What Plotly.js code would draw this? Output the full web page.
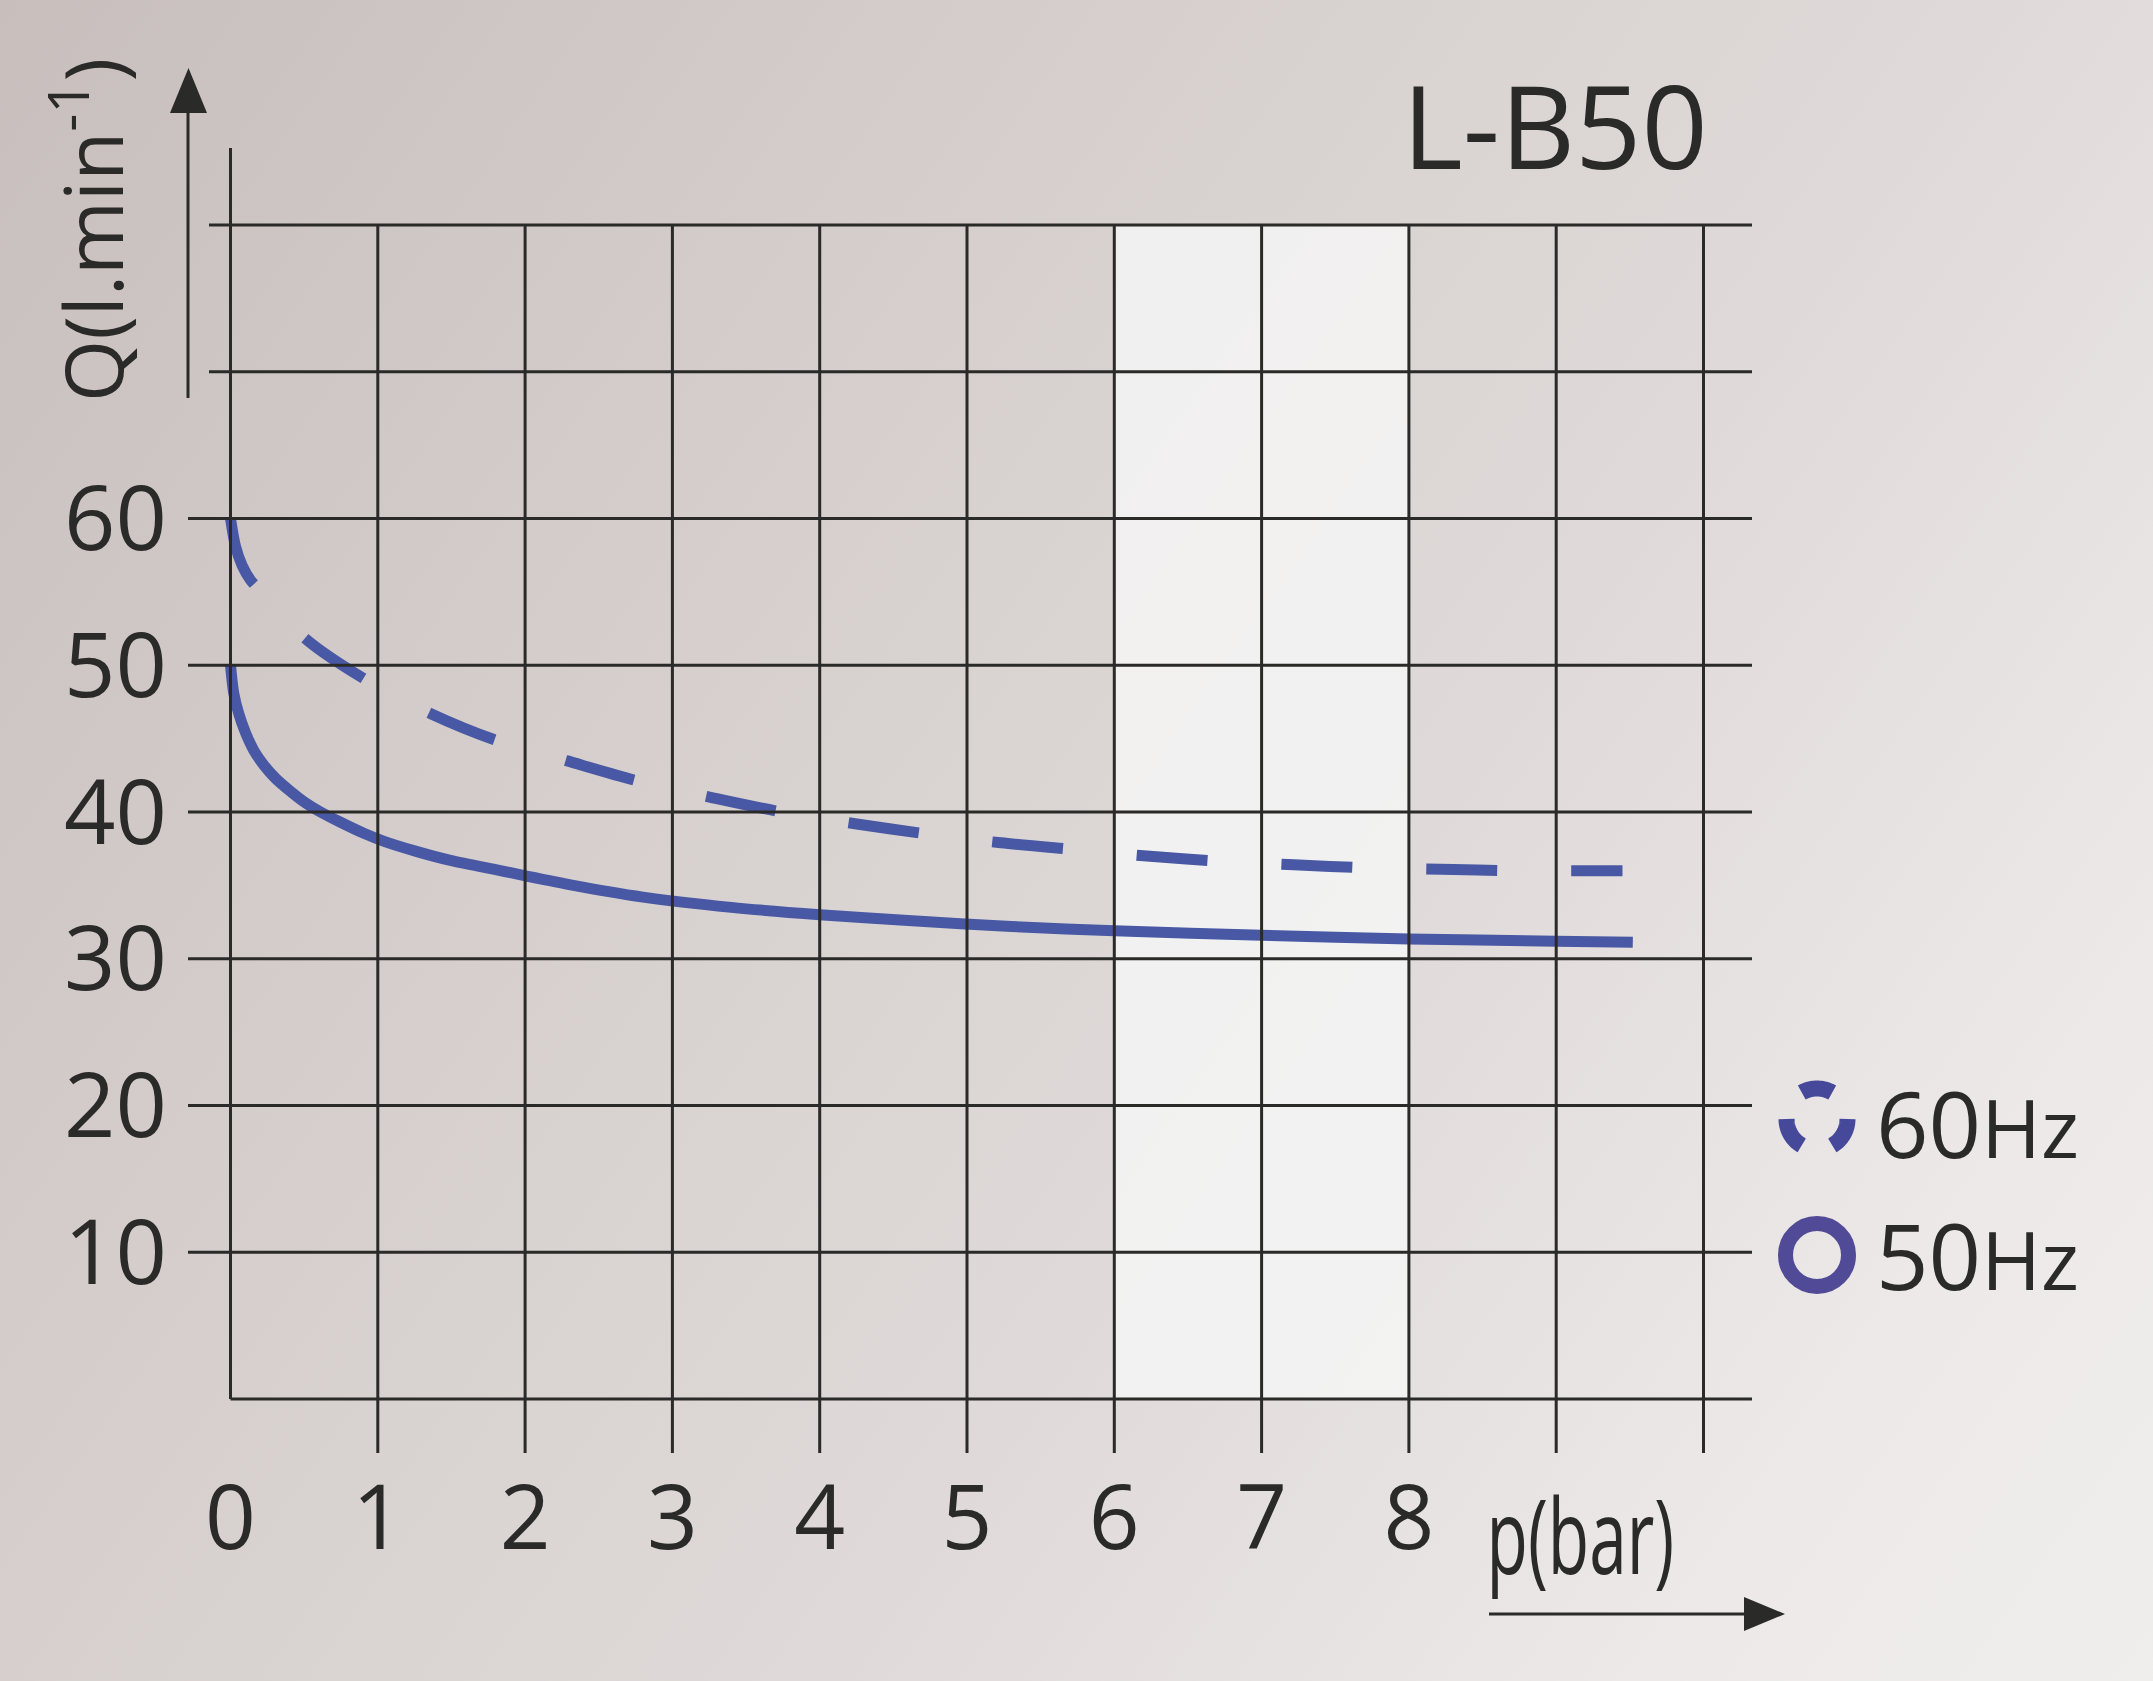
<!DOCTYPE html>
<html><head><meta charset="utf-8">
<script src="https://cdn.plot.ly/plotly-3.0.1.min.js"></script>
<style>
html,body{margin:0;padding:0;width:2153px;height:1681px;overflow:hidden;
background:linear-gradient(125deg,#c8bfbd 0%,#d4cdcb 30%,#dfdad9 60%,#ece9e8 85%,#f0eded 100%);}
#chart{width:2153px;height:1681px;}
</style></head><body><div id="chart"></div>
<script>
// ---- data ----
const pressure50 = [0, 0.022, 0.056, 0.102, 0.158, 0.226, 0.305, 0.396, 0.498, 0.611, 0.747, 0.905, 1.043, 1.267, 1.493, 1.833, 2.3, 2.8, 3.4, 4, 4.6, 5.3, 6, 7, 8, 9, 9.52];
const flow50     = [50, 48.1, 46.7, 45.4, 44.2, 43.2, 42.3, 41.5, 40.7, 40.0, 39.3, 38.55, 38.0, 37.3, 36.7, 36.0, 35.05, 34.2, 33.5, 33.0, 32.6, 32.2, 31.9, 31.6, 31.35, 31.2, 31.12];
const pressure60 = [0, 0.034, 0.079, 0.136, 0.18, 0.51, 0.92, 1.36, 1.8, 2.28, 2.77, 3.26, 3.74, 4.24, 4.73, 5.23, 5.72, 6.22, 6.71, 7.22, 7.71, 8.22, 8.71, 9.21, 9.45];
const flow60     = [60, 58.1, 56.8, 55.8, 55.3, 51.8, 49.0, 46.7, 44.9, 43.5, 42.1, 41.0, 40.0, 39.2, 38.5, 37.9, 37.45, 37.0, 36.65, 36.4, 36.2, 36.1, 36.0, 36.0, 36.0];
const xTickVals  = [0, 1, 2, 3, 4, 5, 6, 7, 8];
const xTickText  = ['0', '1', '2', '3', '4', '5', '6', '7', '8'];
const yTickVals  = [10, 20, 30, 40, 50, 60];
const yTickText  = ['10', '20', '30', '40', '50', '60'];
const gridX      = [1, 2, 3, 4, 5, 6, 7, 8, 9, 10];
const gridY      = [0, 10, 20, 30, 40, 50, 60, 70, 80];
const bandX      = [6, 8];
const seriesNames = ['60Hz', '50Hz'];
const chartTitle = 'L-B50';
const xTitle = 'p(bar)';
const yTitle = 'Q(l.min<sup>-1</sup>)';

// ---- layout geometry (pixels) ----
const W = 2153, H = 1681;
const L = 188, R = 1752, T = 148, B = 1453;
const x0px = 230.5, xUnit = 147.3, y0px = 1399, yUnit = 14.675;
const xRange = [(L - x0px) / xUnit, (R - x0px) / xUnit];
const yRange = [(y0px - B) / yUnit, (y0px - T) / yUnit];
const px2x = p => (p - L) / (R - L);
const py2y = p => (B - p) / (B - T);

const INK = '#2a2a28';
const BLUE = '#4858a4';
const gridW = 3;

const shapes = [];
// highlighted band
shapes.push({type: 'rect', xref: 'x', yref: 'y', x0: bandX[0], x1: bandX[1], y0: 0, y1: gridY[gridY.length - 1],
  fillcolor: 'rgba(247,246,246,0.82)', line: {width: 0}, layer: 'below'});
// vertical grid lines (extend below axis)
gridX.forEach(v => shapes.push({type: 'line', xref: 'x', yref: 'y', x0: v, x1: v, y0: yRange[0], y1: gridY[gridY.length - 1],
  line: {color: INK, width: gridW}}));
// horizontal grid lines
gridY.forEach(v => {
  let xs = v === 0 ? 0 : (v >= 70 ? (209 - x0px) / xUnit : xRange[0]);
  shapes.push({type: 'line', xref: 'x', yref: 'y', x0: xs, x1: xRange[1], y0: v, y1: v, line: {color: INK, width: gridW}});
});
// y axis line
shapes.push({type: 'line', xref: 'x', yref: 'y', x0: 0, x1: 0, y0: 0, y1: yRange[1], line: {color: INK, width: gridW}});

// up arrow (Q)
shapes.push({type: 'line', xref: 'paper', yref: 'paper', x0: px2x(188), x1: px2x(188), y0: py2y(398), y1: py2y(110),
  line: {color: INK, width: 3}});
shapes.push({type: 'path', xref: 'paper', yref: 'paper',
  path: `M ${px2x(170)} ${py2y(113)} L ${px2x(207)} ${py2y(113)} L ${px2x(188.5)} ${py2y(68)} Z`,
  fillcolor: INK, line: {width: 0}});
// right arrow (p)
shapes.push({type: 'line', xref: 'paper', yref: 'paper', x0: px2x(1489), x1: px2x(1748), y0: py2y(1614), y1: py2y(1614),
  line: {color: INK, width: 3}});
shapes.push({type: 'path', xref: 'paper', yref: 'paper',
  path: `M ${px2x(1744)} ${py2y(1597)} L ${px2x(1744)} ${py2y(1631)} L ${px2x(1785)} ${py2y(1614)} Z`,
  fillcolor: INK, line: {width: 0}});

// legend icons
function arcPath(cx, cy, r, a0, a1) {
  let s = '';
  const n = 24;
  for (let i = 0; i <= n; i++) {
    const a = (a0 + (a1 - a0) * i / n) * Math.PI / 180;
    const px = cx + r * Math.cos(a), py = cy - r * Math.sin(a);
    s += (i === 0 ? 'M ' : ' L ') + px2x(px) + ' ' + py2y(py);
  }
  return s;
}
const c60 = [1817, 1119], c50 = [1817, 1255];
[[60, 120], [180, 240], [300, 360]].forEach(([a0, a1]) => shapes.push({type: 'path', xref: 'paper', yref: 'paper',
  path: arcPath(c60[0], c60[1], 30.5, a0, a1), line: {color: '#46489a', width: 16}}));
shapes.push({type: 'circle', xref: 'paper', yref: 'paper', x0: px2x(c50[0] - 31.5), x1: px2x(c50[0] + 31.5),
  y0: py2y(c50[1] + 31.5), y1: py2y(c50[1] - 31.5), line: {color: '#514a96', width: 15}});

const FONT = '"Open Sans", "Noto Sans", sans-serif';

const annotations = [
  {xref: 'paper', yref: 'paper', x: px2x(88), y: py2y(230), text: yTitle, textangle: -90,
   showarrow: false, xanchor: 'center', yanchor: 'middle', font: {family: FONT, size: 80, color: INK}},
  {xref: 'paper', yref: 'paper', x: px2x(1580), y: py2y(1533), text: xTitle, showarrow: false,
   xanchor: 'center', yanchor: 'middle', font: {family: FONT, size: 104, color: INK}},
  {xref: 'paper', yref: 'paper', x: px2x(1874), y: py2y(1122), text: '60<span style="font-size:81px">Hz</span>',
   showarrow: false, xanchor: 'left', yanchor: 'middle', font: {family: FONT, size: 92, color: INK}},
  {xref: 'paper', yref: 'paper', x: px2x(1874), y: py2y(1254), text: '50<span style="font-size:81px">Hz</span>',
   showarrow: false, xanchor: 'left', yanchor: 'middle', font: {family: FONT, size: 92, color: INK}}
];

const traces = [
  {x: pressure60, y: flow60, name: seriesNames[0], type: 'scatter', mode: 'lines',
   line: {color: BLUE, width: 11, dash: '71px,74px', shape: 'spline', smoothing: 0.8}},
  {x: pressure50, y: flow50, name: seriesNames[1], type: 'scatter', mode: 'lines',
   line: {color: BLUE, width: 11, shape: 'spline', smoothing: 0.8}}
];

const layout = {
  width: W, height: H,
  margin: {l: L, r: W - R, t: T, b: H - B, pad: 0},
  paper_bgcolor: 'rgba(0,0,0,0)', plot_bgcolor: 'rgba(0,0,0,0)',
  showlegend: false,
  title: {text: chartTitle, x: 1555 / W, xanchor: 'center', y: 1 - 128 / H, yanchor: 'middle', yref: 'container',
          font: {family: FONT, size: 116, color: INK}},
  xaxis: {range: xRange, showgrid: false, zeroline: false, showline: false, ticks: '',
          tickmode: 'array', tickvals: xTickVals, ticktext: xTickText, ticklabelstandoff: 6,
          tickfont: {family: FONT, size: 89, color: INK}, fixedrange: true},
  yaxis: {range: yRange, showgrid: false, zeroline: false, showline: false, ticks: '',
          tickmode: 'array', tickvals: yTickVals, ticktext: yTickText, ticklabelstandoff: 20,
          tickfont: {family: FONT, size: 90, color: INK}, fixedrange: true},
  shapes: shapes,
  annotations: annotations
};

Plotly.newPlot('chart', traces, layout, {staticPlot: true, displayModeBar: false}).then(gd => {
  // the reference sets p(bar) in a condensed face: narrow the text horizontally about its centre
  const t = gd.querySelector('.annotation[data-index="1"] text');
  if (t) {
    const bb = t.getBBox();
    const cx = bb.x + bb.width / 2;
    t.setAttribute('transform', `translate(${cx},0) scale(0.65,1) translate(${-cx},0)`);
  }
});
</script></body></html>
